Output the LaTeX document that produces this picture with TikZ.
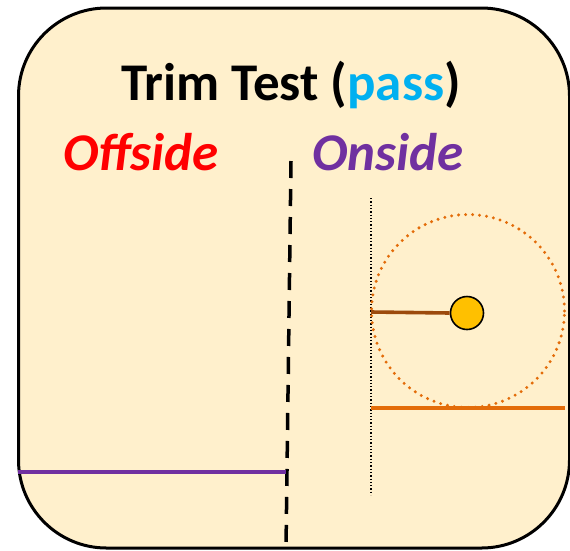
\documentclass[tikz,border=0pt]{standalone}
\usepackage{fontspec}
\setmainfont{Carlito}
\definecolor{boxfill}{HTML}{FFF0CC}
\definecolor{passblue}{HTML}{00B0F0}
\definecolor{offred}{HTML}{FF0000}
\definecolor{onpurple}{HTML}{7030A0}
\definecolor{trimorange}{HTML}{E36C09}
\definecolor{armbrown}{HTML}{9C4A0C}
\definecolor{ballyellow}{HTML}{FFC000}
\begin{document}
\begin{tikzpicture}[x=1pt,y=-1pt,
  frame/.style={draw=black,line width=3pt,fill=boxfill,rounded corners=88pt},
  titletext/.style={font=\fontsize{53}{58}\selectfont\bfseries,anchor=base,inner sep=0pt},
  sidetext/.style={font=\fontsize{53}{58}\selectfont\bfseries\itshape,anchor=base west,inner sep=0pt},
  divider/.style={line width=3.5pt,dash pattern=on 17pt off 11pt},
  refline/.style={line width=1.3pt,dotted},
  wheelpath/.style={draw=trimorange,line width=3.3pt,line cap=round,dash pattern=on 0pt off 7pt},
  ball/.style={circle,draw=black,line width=1.6pt,fill=ballyellow,minimum size=33pt,inner sep=0pt}]
\useasboundingbox (0,0) rectangle (570,550);
\clip (0,0) rectangle (570,550);
\draw[frame] (18.5,8) rectangle (569.5,548);
\node[titletext] (title) at (291,100) {Trim Test (\textcolor{passblue}{pass})};
\node[sidetext,text=offred] (off) at (63,170) {Offside};
\node[sidetext,text=onpurple] (on) at (312,170) {Onside};
\coordinate (dtop) at (291,161);
\coordinate (dbot) at (286,548);
\draw[divider] (dtop) -- (dbot);
\coordinate (ptl) at (18,472);
\coordinate (ptr) at (286,472);
\draw[onpurple,line width=3.5pt] (ptl) -- (ptr);
\coordinate (vtop) at (371,198);
\coordinate (vbot) at (371,495);
\draw[refline] (vtop) -- (vbot);
\node[circle,minimum size=193pt,inner sep=0pt] (wheel) at (468,311) {};
\draw[wheelpath] (468,311) circle (96.5pt);
\coordinate (ol) at (371,408);
\coordinate (or) at (565,408);
\draw[trimorange,line width=3.5pt] (ol) -- (or);
\node[ball] (b) at (467,313) {};
\coordinate (al) at (371,312);
\draw[armbrown,line width=3.6pt] (al) -- (b.west);
\end{tikzpicture}
\end{document}
